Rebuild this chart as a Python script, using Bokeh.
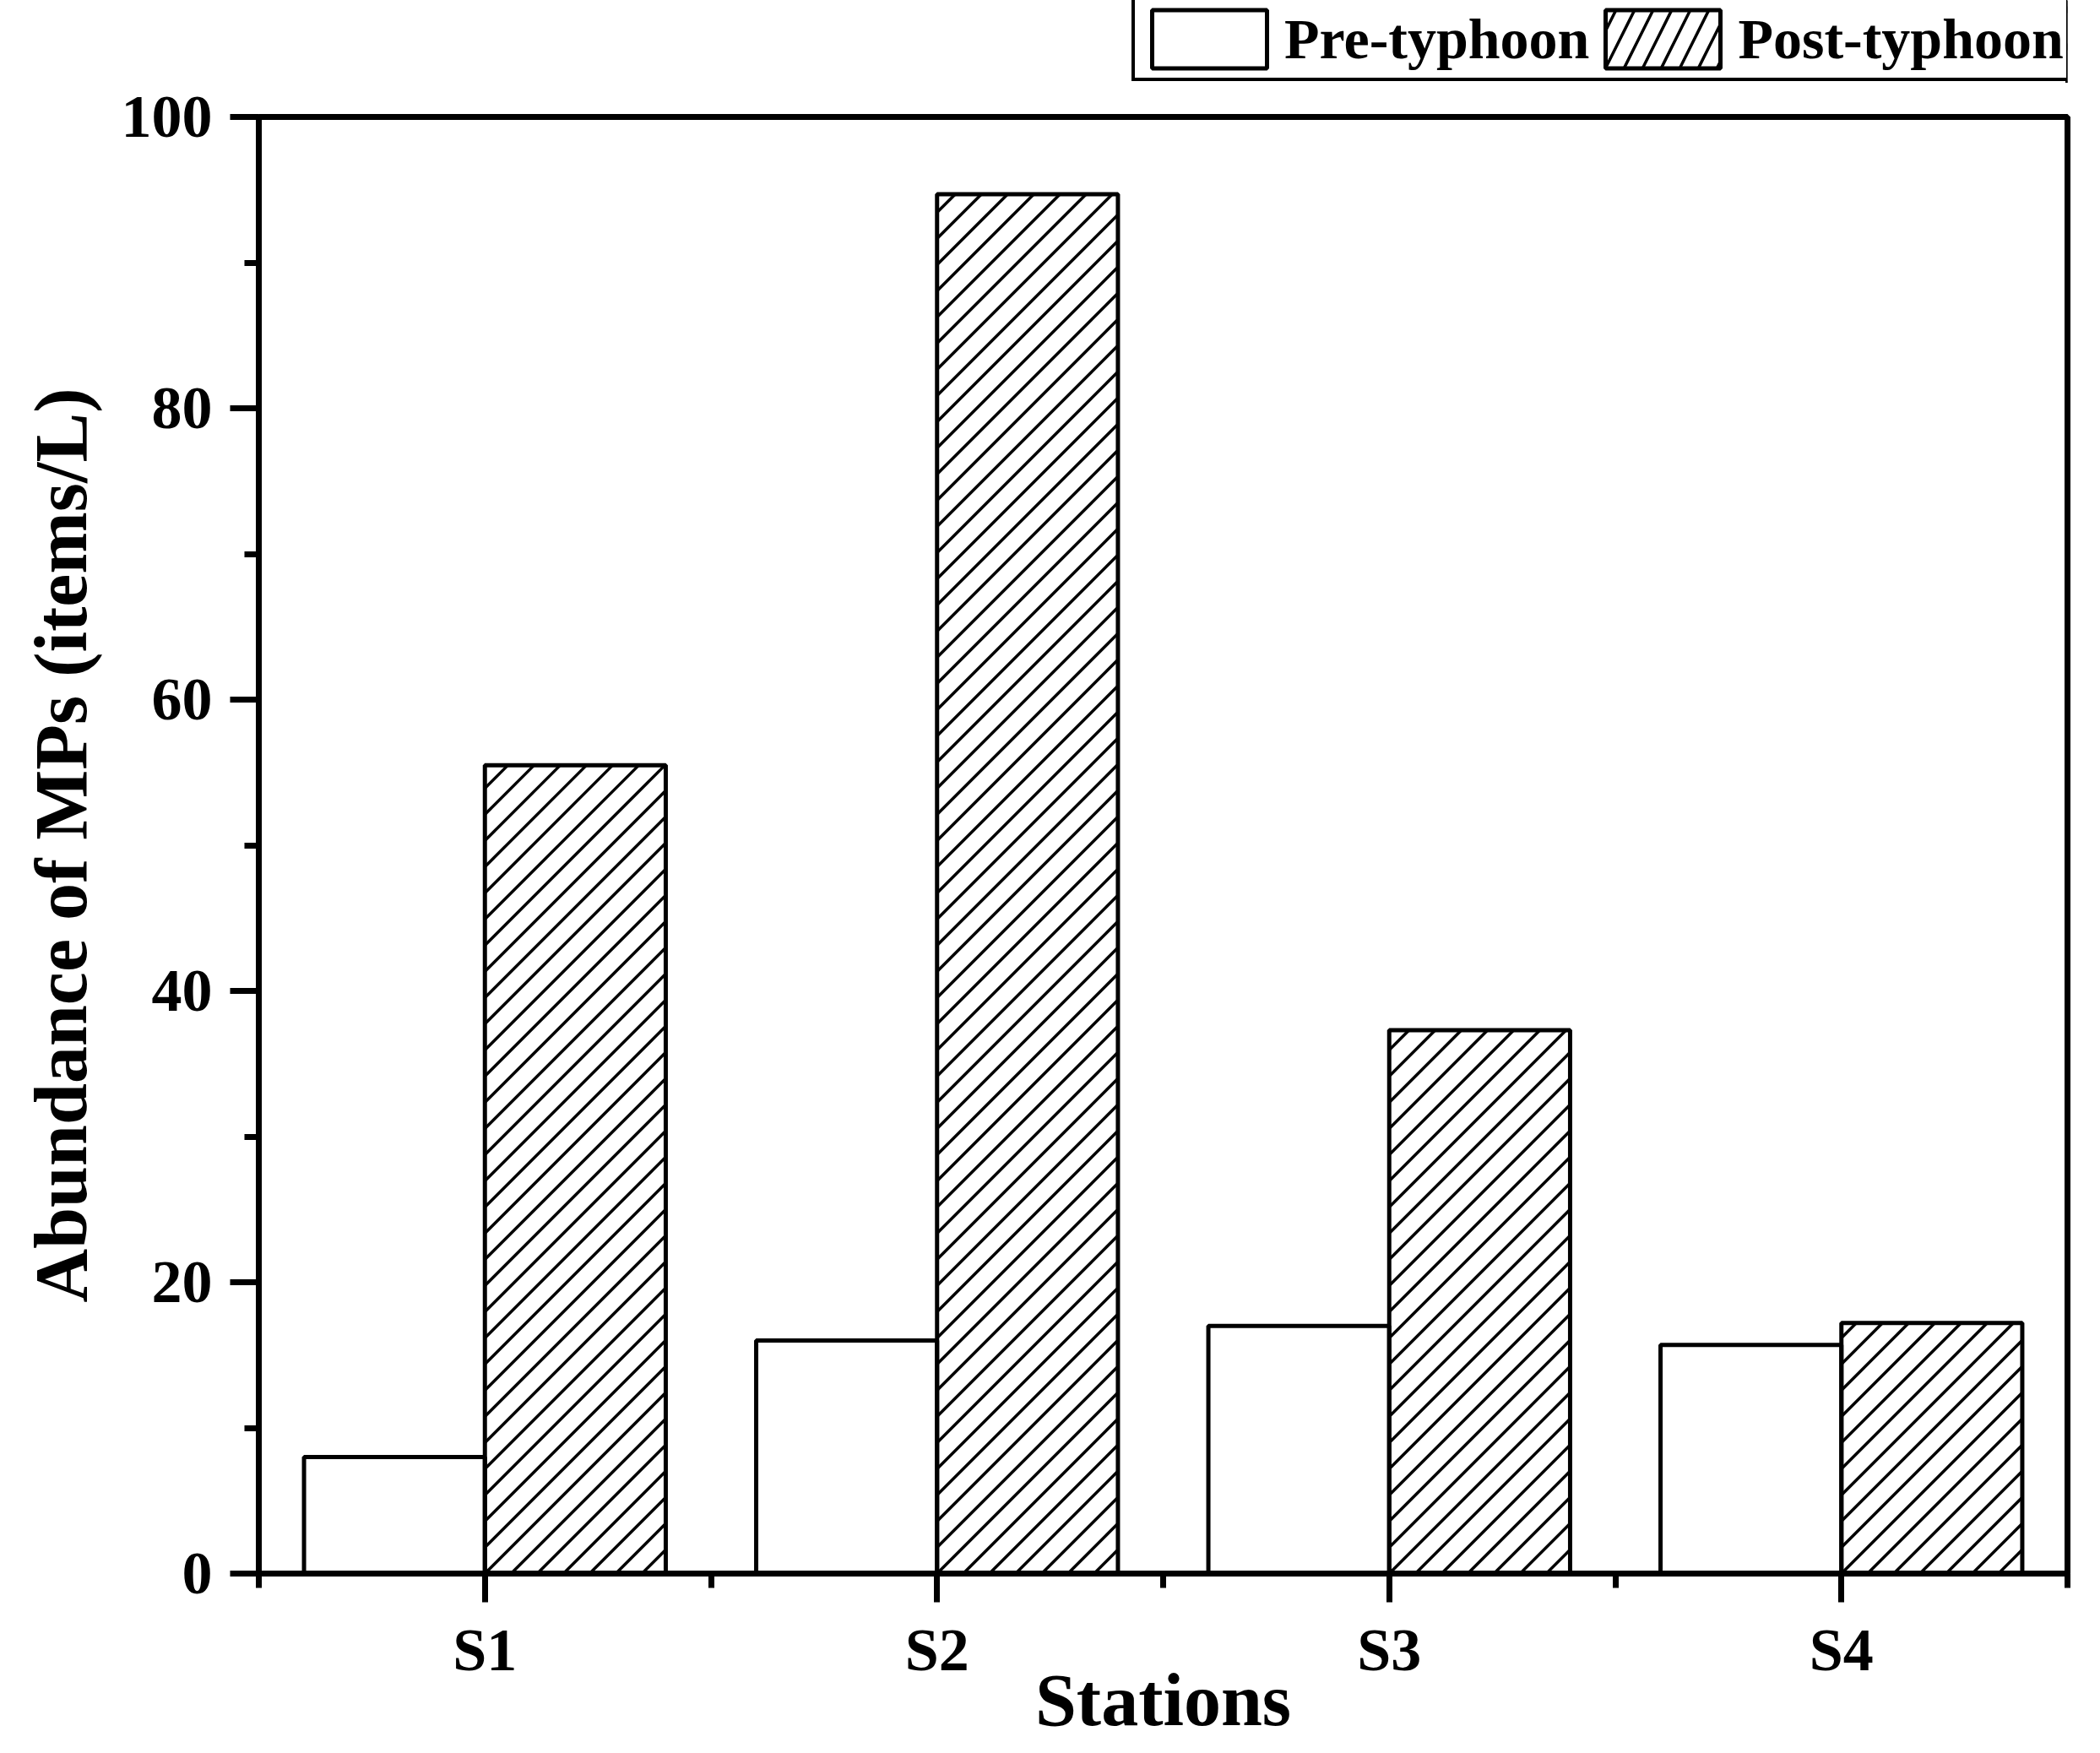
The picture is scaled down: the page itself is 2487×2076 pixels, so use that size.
from bokeh.plotting import figure
from bokeh.models import Range1d, FixedTicker, Legend, LegendItem, ColumnDataSource
from bokeh.layouts import column
from bokeh.transform import dodge
from bokeh.embed import file_html
from bokeh.resources import INLINE

# ---- data ----
stations = ["S1", "S2", "S3", "S4"]
pre_typhoon = [8.0, 16.0, 17.0, 15.7]
post_typhoon = [55.5, 94.7, 37.3, 17.2]
y_major_ticks = [0, 20, 40, 60, 80, 100]
y_minor_ticks = [10, 30, 50, 70, 90]
series_labels = ["Pre-typhoon", "Post-typhoon"]

positions = [i + 1 for i in range(len(stations))]
x_minor = [0.5 + i for i in range(len(stations) + 1)]

FONT = "Liberation Serif"

# ---- geometry ----
WIDTH = 2487
LEG_H = 98                        # strip holding the legend
MAIN_H = 2076 - LEG_H
B_LEFT, B_RIGHT, B_BOTTOM = 306, 39, 213
B_TOP = 138 - LEG_H
X_START, X_END = 0.5, len(stations) + 0.5
Y_START, Y_END = 0, 100
BAR_W = 0.4
OFFSET = 0.2

frame_w = WIDTH - B_LEFT - B_RIGHT
frame_h = MAIN_H - B_TOP - B_BOTTOM
kx = frame_w / (X_END - X_START)   # px per x unit
ky = frame_h / (Y_END - Y_START)   # px per y unit

# 45-degree "/" hatching for the post-typhoon bars, derived from the bar data
HATCH_STEP = 31.0  # px
hx0, hy0, hx1, hy1 = [], [], [], []
for pos, top in zip(positions, post_typhoon):
    xl = pos + OFFSET - BAR_W / 2
    bw = BAR_W * kx
    bh = top * ky
    k_lo = -int(bw // HATCH_STEP) - 1
    k_hi = int(bh // HATCH_STEP) + 1
    for k in range(k_lo, k_hi + 1):
        c = k * HATCH_STEP
        u0 = max(0.0, -c)
        u1 = min(bw, bh - c)
        if u1 - u0 > 1.0:
            hx0.append(xl + u0 / kx)
            hy0.append((u0 + c) / ky)
            hx1.append(xl + u1 / kx)
            hy1.append((u1 + c) / ky)

src = ColumnDataSource(dict(x=positions, pre=pre_typhoon, post=post_typhoon))
hatch_src = ColumnDataSource(dict(x0=hx0, y0=hy0, x1=hx1, y1=hy1))

# ---------------- main chart ----------------
p = figure(width=WIDTH, height=MAIN_H,
           x_range=Range1d(X_START, X_END),
           y_range=Range1d(Y_START, Y_END),
           output_backend="svg", toolbar_location=None,
           min_border_left=B_LEFT, min_border_right=B_RIGHT,
           min_border_top=B_TOP, min_border_bottom=B_BOTTOM)

p.background_fill_color = "white"
p.border_fill_color = "white"
p.xgrid.visible = False
p.ygrid.visible = False
p.outline_line_color = "black"
p.outline_line_width = 7

r1 = p.vbar(x=dodge("x", -OFFSET, range=p.x_range), top="pre", width=BAR_W, source=src,
            fill_color="white", line_color="black", line_width=5)
p.segment(x0="x0", y0="y0", x1="x1", y1="y1", source=hatch_src,
          line_color="black", line_width=3.5)
r2 = p.vbar(x=dodge("x", OFFSET, range=p.x_range), top="post", width=BAR_W, source=src,
            fill_color=None, line_color="black", line_width=5)

xa = p.xaxis[0]
xa.ticker = FixedTicker(ticks=positions, minor_ticks=x_minor)
xa.major_label_overrides = {float(pos): name for pos, name in zip(positions, stations)}
xa.axis_label = "Stations"

ya = p.yaxis[0]
ya.ticker = FixedTicker(ticks=y_major_ticks, minor_ticks=y_minor_ticks)
ya.axis_label = "Abundance of MPs (items/L)"

for ax in (xa, ya):
    ax.axis_line_color = "black"
    ax.axis_line_width = 7
    ax.major_tick_line_color = "black"
    ax.major_tick_line_width = 7
    ax.minor_tick_line_color = "black"
    ax.minor_tick_line_width = 7
    ax.major_tick_in = 0
    ax.major_tick_out = 34
    ax.minor_tick_in = 0
    ax.minor_tick_out = 17
    ax.major_label_text_font = FONT
    ax.major_label_text_font_style = "bold"
    ax.major_label_text_font_size = "72px"
    ax.major_label_text_color = "black"
    ax.axis_label_text_font = FONT
    ax.axis_label_text_font_style = "bold"
    ax.axis_label_text_font_size = "88px"
    ax.axis_label_text_color = "black"

xa.major_label_standoff = 16
xa.axis_label_standoff = -32
ya.major_label_standoff = 21
ya.axis_label_standoff = 20

# ---------------- legend strip ----------------
lg = figure(width=WIDTH, height=LEG_H, title=None,
            x_range=Range1d(0, 1), y_range=Range1d(0, 1),
            x_axis_type=None, y_axis_type=None,
            output_backend="svg", toolbar_location=None,
            min_border_left=0, min_border_right=0, min_border_top=0, min_border_bottom=0)
lg.outline_line_color = None
lg.background_fill_color = "white"
lg.border_fill_color = "white"

# off-screen swatch renderers (only their legend glyphs are seen)
sw_src = ColumnDataSource(dict(x=[5.0], top=[1.0]))
lr1 = lg.vbar(x="x", top="top", width=BAR_W, source=sw_src,
              fill_color="white", line_color="black", line_width=5)
lr2 = lg.vbar(x="x", top="top", width=BAR_W, source=sw_src,
              fill_color="white", line_color="black", line_width=5,
              hatch_pattern="/", hatch_color="black", hatch_scale=44, hatch_weight=3.5)

legend = Legend(items=[LegendItem(label=series_labels[0], renderers=[lr1]),
                       LegendItem(label=series_labels[1], renderers=[lr2])],
                orientation="horizontal", location=(1034, 2), margin=0,
                padding=3, spacing=2, glyph_width=170, glyph_height=86,
                label_standoff=4, label_text_font=FONT, label_text_font_style="bold",
                label_text_font_size="68px", label_text_color="black",
                border_line_color="black", border_line_width=4, border_line_alpha=1.0,
                background_fill_color="white", background_fill_alpha=1)
lg.add_layout(legend, "center")

layout = column(lg, p, spacing=0)

open("out.html", "w").write(file_html(layout, INLINE))
